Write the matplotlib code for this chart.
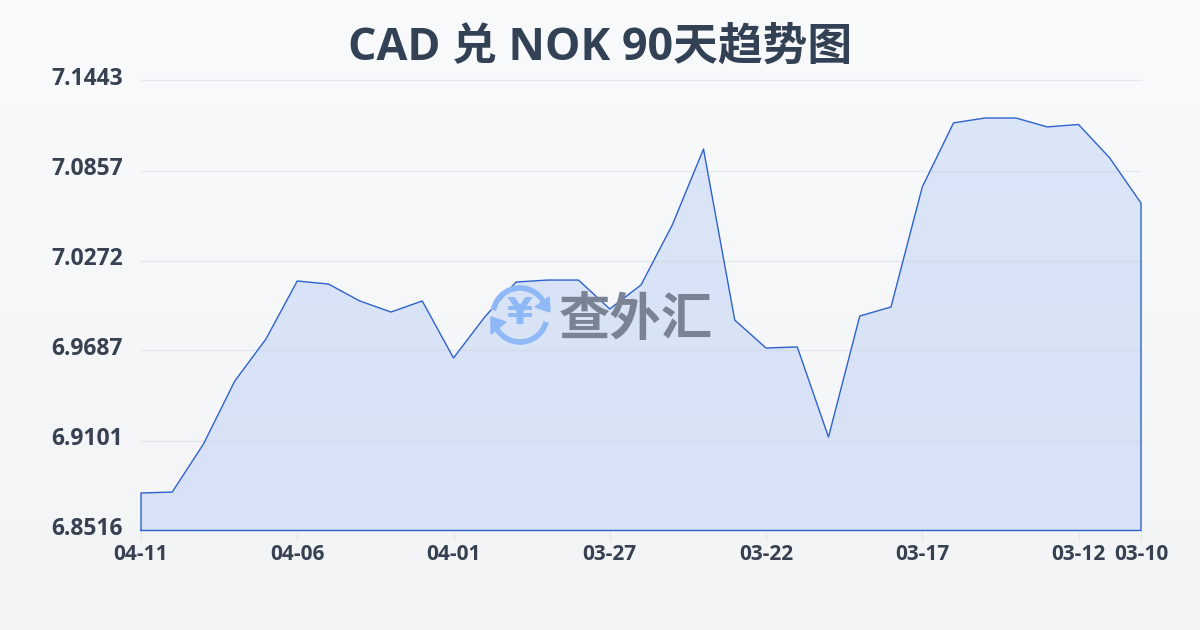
import numpy as np
import matplotlib
matplotlib.use("Agg")
import matplotlib.pyplot as plt
from matplotlib.colors import LinearSegmentedColormap
from matplotlib.patches import Arc, Polygon
from matplotlib.transforms import ScaledTranslation

plt.rcParams["font.family"] = ["Open Sans", "Noto Sans CJK SC", "DejaVu Sans"]

title = "CAD 兑 NOK 90天趋势图"
rates = [6.8760, 6.8766, 6.9079, 6.9488, 6.9762, 7.0139, 7.0119, 7.0009, 6.9937, 7.0009, 6.9638,
         6.9905, 7.0132, 7.0145, 7.0145, 6.9957, 7.0113, 7.0503, 7.0997, 6.9885, 6.9703,
         6.9710, 6.9124, 6.9911, 6.9970, 7.0750, 7.1167, 7.1199, 7.1199, 7.1141, 7.1157,
         7.0939, 7.0646]
x_ticks = [0, 5, 10, 15, 20, 25, 30, 32]
x_labels = ["04-11", "04-06", "04-01", "03-27", "03-22", "03-17", "03-12", "03-10"]
y_ticks = [6.8516, 6.9101, 6.9687, 7.0272, 7.0857, 7.1443]
y_labels = ["6.8516", "6.9101", "6.9687", "7.0272", "7.0857", "7.1443"]

text_color = "#374151"
line_color = "#2f62cc"
grid_color = "#e5e7eb"

fig = plt.figure(figsize=(12, 6.3), dpi=100)

# page background
bg = fig.add_axes([0, 0, 1, 1], zorder=0)
bg_cmap = LinearSegmentedColormap.from_list("bg", ["#f9fafc", "#f3f4f6"])
bg.imshow(np.linspace(0, 1, 256).reshape(-1, 1), aspect="auto", cmap=bg_cmap, extent=[0, 1, 0, 1])
bg.axis("off")

ax = fig.add_axes([141 / 1200, 99.5 / 630, 1000 / 1200, 450 / 630], zorder=1)
ax.patch.set_alpha(0)
xs = np.arange(len(rates))
ax.set_xlim(0, 32)
ax.set_ylim(y_ticks[0], y_ticks[-1])

# area with a faint vertical gradient, clipped to the series polygon
area = ax.fill_between(xs, rates, y_ticks[0], color="none", zorder=2)
area_cmap = LinearSegmentedColormap.from_list("area", ["#d8e1f5", "#dbe6f9"])
im = ax.imshow(np.linspace(0, 1, 256).reshape(-1, 1), aspect="auto", cmap=area_cmap, origin="lower",
               extent=[0, 32, y_ticks[0], y_ticks[-1]], zorder=2)
im.set_clip_path(area.get_paths()[0], transform=ax.transData)
ax.grid(axis="y", color="#c9d0dc", alpha=0.38, linewidth=1, zorder=3, clip_on=False)
ax.set_axisbelow(False)

ax.plot(np.r_[xs[0], xs, xs[-1], xs[0]], np.r_[y_ticks[0], rates, y_ticks[0], y_ticks[0]],
        color=line_color, linewidth=1, zorder=4, clip_on=False)

ax.set_xticks(x_ticks)
ax.set_xticklabels(x_labels, fontsize=15, fontweight="bold", color=text_color)
ax.set_yticks(y_ticks)
ax.set_yticklabels(y_labels, fontsize=16.5, fontweight="bold", color=text_color)
ax.tick_params(axis="x", length=7.5, width=1, color=grid_color, pad=2)
ax.tick_params(axis="y", length=0, pad=13)
shift_up = ScaledTranslation(0, 0.8 / 72, fig.dpi_scale_trans)
for label in ax.get_yticklabels():
    label.set_verticalalignment("center")
    label.set_transform(label.get_transform() + shift_up)
for spine in ax.spines.values():
    spine.set_visible(False)

fig.text(600 / 1200, 1 - 48 / 630, title, fontsize=32.2, fontweight="bold", color="#334155",
         ha="center", va="center", zorder=6)

# watermark logo, drawn in pixel coordinates
wm = fig.add_axes([0, 0, 1, 1], zorder=5)
wm.set_xlim(0, 1200)
wm.set_ylim(630, 0)
wm.axis("off")
logo_blue = "#8fb8f6"
wm.add_patch(Arc((520, 315), 54, 54, theta1=190, theta2=335, color=logo_blue, linewidth=4))
wm.add_patch(Arc((520, 315), 54, 54, theta1=15, theta2=160, color=logo_blue, linewidth=4))
wm.add_patch(Polygon([[549, 297], [550, 312], [535, 307]], color=logo_blue))
wm.add_patch(Polygon([[491, 317], [506, 322], [491, 334]], color=logo_blue))
wm.text(520, 314, "¥", fontsize=27, fontweight="bold", color=logo_blue, ha="center", va="center",
        family=["DejaVu Sans"])
wm.text(636, 320, "查外汇", fontsize=37, fontweight="bold", color="#7a8394", ha="center", va="center",
        family=["Noto Sans CJK SC"])

fig.savefig("out.png", dpi=100)
plt.close(fig)
